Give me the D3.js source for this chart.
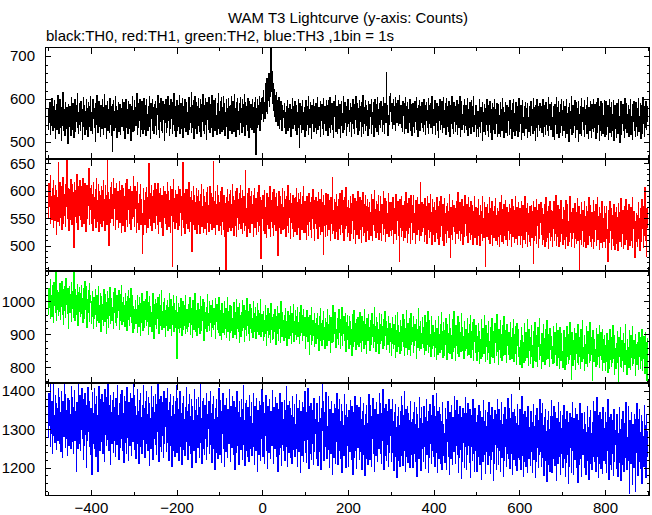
<!DOCTYPE html>
<html><head><meta charset="utf-8">
<script src="https://cdn.jsdelivr.net/npm/d3@7"></script>
<style>body{margin:0;background:#fff}svg{display:block}</style>
</head><body>
<svg id="c" width="652" height="515"></svg>
<script>
const titleText = "WAM T3 Lightcurve (y-axis: Counts)";
const subtitleText = "black:TH0, red:TH1, green:TH2, blue:TH3 ,1bin = 1s";
const binStart = -500; // time of first 1 s bin
const xMajorTicks = [-400,-200,0,200,400,600,800];
const xMinorTicks = [-500,-300,-100,100,300,500,700,900];
const yTicksTH0 = [500,600,700];
const yTicksTH1 = [500,550,600,650];
const yTicksTH2 = [800,900,1000];
const yTicksTH3 = [1200,1300,1400];

const th0 = [
561,530,578,545,592,550,517,569,538,601,555,526,583,560,534,596,547,508,574,552,587,529,564,609,542,
520,573,549,598,535,562,504,581,567,539,615,527,554,577,516,568,593,544,531,580,557,498,588,549,572,
536,584,562,515,603,551,529,572,591,540,511,578,555,599,524,548,585,566,533,612,552,519,570,589,542,
564,526,595,547,575,507,567,603,537,558,586,518,571,546,600,530,579,552,512,592,563,537,583,550,606,
528,569,546,587,520,598,554,579,533,572,501,590,561,540,609,548,523,578,556,594,537,567,514,585,551,
576,531,599,555,517,581,545,611,535,563,586,509,570,549,595,527,577,554,522,602,566,540,584,516,562,
478,588,547,597,526,571,550,605,534,560,582,510,573,552,593,524,567,545,588,518,579,556,536,600,549,
569,527,592,552,508,580,561,598,535,555,577,519,595,546,570,531,587,558,505,584,564,541,607,525,573,
546,596,526,568,580,538,560,613,518,554,589,534,572,550,599,513,579,556,529,594,565,521,583,549,602,
530,569,586,515,557,598,544,564,526,584,551,606,536,573,509,591,555,567,527,600,546,581,520,561,587,
538,595,557,518,579,565,609,529,554,590,510,571,548,601,528,564,585,522,594,552,575,503,588,545,567,
600,523,580,557,535,605,550,568,515,586,561,532,598,554,573,520,592,541,566,612,527,556,583,512,570,
549,596,528,571,585,537,560,608,521,557,589,531,567,601,549,511,583,562,535,599,555,576,524,592,546,
568,517,590,552,603,529,565,580,545,616,523,559,586,534,597,508,574,553,607,531,570,592,519,556,584,
539,601,561,524,579,552,598,514,569,588,547,610,528,564,586,521,557,602,540,577,507,593,553,567,530,
604,549,570,522,587,559,535,609,546,581,513,567,596,555,526,575,601,538,562,518,589,551,614,532,572,
556,521,595,567,541,603,525,580,554,607,530,565,590,516,570,549,600,536,578,559,509,602,546,583,527,
585,561,538,606,519,572,594,549,566,525,611,555,579,513,592,542,563,601,530,571,552,589,518,560,603,
545,579,523,598,562,536,587,553,610,516,568,593,540,559,582,526,602,549,573,511,595,564,535,588,554,
570,529,599,557,581,522,592,550,565,603,472,578,555,598,533,586,562,541,605,527,580,592,552,571,601,
566,604,548,621,579,593,556,637,571,612,588,649,566,628,597,659,583,641,607,672,731,618,664,596,650,
589,637,574,622,560,608,583,547,615,566,596,539,585,558,603,531,577,552,594,546,571,528,586,557,569,
573,533,589,551,569,521,584,542,563,597,526,560,579,535,588,547,568,514,576,553,602,531,565,583,540,
561,594,526,574,548,586,518,570,551,600,534,488,575,591,540,564,523,582,555,596,530,568,545,581,512,
570,549,597,528,562,583,541,606,517,557,577,535,592,551,565,509,585,543,572,599,524,561,547,582,533,
590,521,564,545,604,529,568,581,538,555,595,513,576,550,588,531,562,601,518,574,544,583,556,527,597,
546,586,562,515,575,596,535,557,603,522,567,542,591,530,581,551,510,594,560,571,536,608,525,564,584,
519,575,550,597,532,560,588,511,578,546,594,539,566,523,605,554,580,529,592,545,569,516,584,557,537,
599,543,573,524,562,591,548,580,513,570,544,598,531,559,587,520,575,553,607,534,564,589,541,517,578,
556,596,526,572,547,584,512,592,561,537,609,521,565,581,543,596,528,559,586,539,574,515,594,551,565,
531,588,560,579,520,600,548,569,541,592,514,576,554,598,534,563,587,525,603,550,575,518,561,590,542,
569,533,595,553,584,524,562,604,540,577,519,591,556,546,599,662,568,585,516,563,542,607,551,590,613,
571,548,589,532,576,560,598,541,583,566,604,527,574,590,545,561,596,538,580,553,609,544,569,586,535,
543,586,525,594,561,575,520,589,551,603,532,565,582,540,593,523,558,577,546,598,528,571,553,587,516,
567,591,536,557,583,522,595,548,573,530,604,552,579,512,585,562,541,596,526,564,583,545,592,533,559,
581,525,598,555,542,586,517,567,593,550,574,535,602,521,561,585,543,591,534,571,553,606,519,576,560,
538,580,555,596,518,569,545,589,527,562,584,511,576,551,599,530,558,583,540,594,522,565,546,603,533,
573,548,589,517,560,601,536,556,582,525,594,549,570,512,585,543,562,605,531,555,581,520,592,547,568,
524,584,557,541,597,518,569,552,588,535,563,607,514,577,548,595,530,565,542,586,555,523,600,538,561,
586,530,565,546,601,516,576,555,534,593,543,571,520,597,558,536,583,549,605,525,563,541,585,556,512,
586,547,531,572,512,558,598,537,565,522,581,549,555,503,593,534,570,525,587,543,561,517,578,540,600,
528,553,585,514,568,541,594,523,559,547,577,506,590,550,529,580,536,599,519,557,575,544,591,513,566,
543,588,521,562,538,593,514,575,550,526,601,534,558,581,510,570,547,592,522,560,540,585,516,572,551,
581,518,556,597,531,554,573,509,589,544,524,600,550,566,515,578,537,592,527,555,584,513,568,546,602,
525,562,543,585,507,575,550,596,522,557,538,583,515,569,592,531,548,578,511,590,543,558,524,582,536,
569,516,594,539,553,577,520,561,602,528,547,580,505,586,552,534,598,514,573,542,582,526,559,591,533,
550,584,522,571,543,599,512,555,585,536,565,517,593,541,576,527,551,603,515,579,538,588,530,564,547,
592,529,558,514,582,547,576,506,588,541,561,604,519,553,581,534,595,510,570,545,587,522,556,600,538,
515,574,548,595,527,559,582,511,551,536,598,521,566,544,580,502,589,555,531,571,546,605,517,558,540,
585,522,556,539,597,510,575,547,592,529,553,578,501,594,543,564,519,583,538,601,516,558,549,580,530,
559,596,513,577,542,553,585,521,603,536,564,508,581,550,526,594,539,572,511,588,556,531,599,524,575,
535,587,551,509,593,544,569,522,601,540,560,503,584,549,527,595,516,573,543,590,520,563,541,597,512,
578,548,594,518,560,536,586,507,569,543,599,522,556,581,514,592,538,565,526,597,505,574,550,585,532,
557,511,589,540,574,519,598,546,559,500,583,535,595,517,561,544,587,526,578,551,510,602,531,558,542,
591,523,564,544,585,512,576,550,533,600,518,559,539,588,507,572,547,595,528,556,581,514,593,537,562,
516,579,548,601,524,560,541,591,509,575,553,586,521,604,543,568,512,582,534,557,595,529,571,547,584
];

const th1 = [
585,552,613,571,598,540,627,566,590,548,604,575,533,619,560,592,546,609,578,521,601,569,588,545,652,
563,596,537,615,574,552,608,529,587,566,624,541,593,580,556,611,535,599,572,658,549,583,605,561,528,
602,575,548,620,559,590,539,611,568,597,496,584,616,553,576,601,542,629,565,589,530,607,580,556,618,
547,593,571,608,535,582,622,559,600,541,577,613,566,526,595,562,609,550,586,574,640,538,591,568,604,
566,609,541,594,577,528,616,560,587,549,603,572,534,623,557,582,545,612,568,526,599,563,591,540,608,
579,535,600,564,618,546,585,571,528,609,557,592,539,576,657,553,597,500,584,567,606,543,580,616,550,
594,558,622,537,581,568,605,530,591,559,614,547,575,598,534,586,563,617,542,572,600,525,610,556,583,
537,604,570,589,526,613,560,582,548,620,535,577,595,566,603,541,572,608,530,587,564,598,549,579,626,
554,590,535,608,568,582,524,599,561,615,543,577,530,593,566,550,612,538,584,559,486,521,575,604,547,
582,539,597,564,525,606,558,588,533,571,649,550,579,595,536,563,609,527,590,568,553,601,542,580,614,
531,574,602,556,587,539,613,565,522,596,577,545,605,560,583,534,591,571,518,608,552,586,567,598,541,
593,562,529,615,573,550,598,535,582,568,607,524,589,556,603,462,578,565,621,544,586,532,600,559,575,
542,594,567,529,608,551,581,537,603,560,573,518,589,564,548,651,534,576,595,523,585,557,602,540,569,
602,532,575,558,616,526,587,563,544,599,571,490,582,555,608,539,568,592,530,578,561,605,522,589,551,
565,600,538,580,523,594,552,585,611,535,571,559,524,603,548,589,532,578,566,597,520,557,606,543,574,
526,584,562,607,540,571,595,529,558,588,551,653,534,569,581,521,598,554,575,539,610,547,563,591,528,
579,537,598,554,569,520,606,545,585,530,592,561,516,577,555,454,588,539,603,566,526,581,551,594,534,
563,601,528,575,545,611,533,567,590,519,582,554,598,537,572,516,605,552,584,529,563,596,541,577,609,
532,586,557,523,600,564,543,590,528,579,555,637,536,568,517,595,550,581,531,604,559,525,589,546,573,
598,540,575,559,516,592,552,604,534,570,586,521,563,597,545,579,526,609,555,537,588,567,477,583,549,
560,591,528,576,547,600,523,569,553,584,515,595,539,562,588,531,574,552,607,517,582,545,566,597,534,
580,519,603,551,538,587,564,527,595,554,572,483,584,548,599,533,565,590,522,576,557,542,605,529,569,
544,598,532,563,584,516,590,555,573,537,609,525,568,552,583,514,596,543,577,560,531,592,549,517,586,
570,526,588,557,541,604,521,579,550,595,533,566,584,512,597,546,575,529,589,562,538,607,524,581,555,
524,581,553,512,590,539,572,557,519,596,545,578,529,563,587,515,571,550,602,532,559,583,510,574,541,
588,531,566,544,580,513,597,552,535,584,521,570,557,603,526,562,579,484,591,548,536,573,517,595,554,
539,576,518,594,555,530,582,546,569,509,587,541,575,522,624,551,528,565,584,514,578,543,561,593,526,
572,512,585,548,564,532,595,520,577,553,539,601,524,566,582,510,588,545,559,531,606,536,569,550,516,
551,582,525,568,510,590,539,563,522,577,546,594,513,558,573,530,586,505,567,544,580,521,555,599,532,
514,571,547,588,529,564,506,583,551,535,597,519,560,576,525,591,542,508,572,554,584,527,549,569,512,
578,533,561,518,593,546,572,509,585,538,557,527,600,543,566,515,581,550,524,575,536,592,511,563,545,
525,589,554,509,576,541,564,520,598,532,553,586,507,570,547,581,523,559,535,595,516,568,542,579,528,
557,518,579,542,530,588,505,567,549,523,575,537,594,512,560,546,581,519,553,570,471,585,534,562,517,
589,527,556,574,510,565,543,580,515,551,597,528,563,506,577,539,522,586,548,533,569,504,592,543,559,
512,573,535,591,524,558,547,504,582,540,566,520,588,552,529,575,509,561,537,615,518,556,579,526,548,
575,533,565,508,586,541,520,572,554,505,589,530,563,543,577,515,551,593,526,560,538,502,584,547,569,
520,579,541,508,564,547,525,588,514,555,572,533,503,581,544,562,517,590,536,553,509,575,530,567,501,
586,523,558,541,572,506,549,577,528,563,515,594,537,552,478,570,546,520,583,512,559,535,574,526,553,
505,567,536,580,522,554,597,513,544,561,527,578,509,566,549,523,585,539,502,571,533,559,516,592,541,
564,518,575,532,553,506,587,544,524,569,511,556,581,538,520,573,502,562,547,528,589,515,551,570,534,
546,503,568,530,584,519,555,537,501,574,543,522,562,509,590,532,550,515,578,527,560,463,569,538,517,
575,528,511,559,541,587,505,551,567,520,544,580,500,563,533,515,571,548,523,586,510,556,535,502,568,
517,562,544,498,579,532,553,521,591,508,547,566,529,504,575,540,518,583,512,557,539,569,501,550,527,
560,511,576,538,522,568,499,584,535,553,517,572,542,506,564,528,589,513,547,570,503,555,532,578,519,
532,567,503,549,580,518,555,496,573,537,511,563,544,590,505,551,526,568,499,577,521,558,535,508,571,
500,556,533,574,515,547,562,468,581,526,510,569,541,518,585,504,552,536,565,496,575,530,513,559,543,
579,521,544,503,568,533,557,512,576,498,550,529,587,507,562,538,515,571,495,554,525,581,509,546,564,
517,562,498,553,531,580,510,546,569,523,592,501,557,534,516,574,543,499,566,527,551,508,583,522,538,
547,502,569,528,511,564,539,495,582,517,553,531,576,500,544,520,567,508,590,525,542,498,560,534,513,
568,524,551,496,577,514,542,560,505,530,586,509,548,522,571,457,557,535,512,579,503,546,528,565,499,
539,581,508,554,525,497,572,533,516,563,502,545,588,518,551,507,574,529,499,561,540,514,583,495,550,
507,563,529,575,500,546,518,587,511,553,535,494,569,524,558,506,542,580,497,564,521,549,508,572,537,
558,496,543,571,514,530,472,564,522,549,506,581,527,540,494,568,513,555,532,501,575,519,546,493,561,
525,570,504,552,537,491,577,516,560,507,544,528,586,499,555,522,565,495,549,513,572,503,538,584,517,
551,512,564,493,534,575,518,556,501,540,569,509,526,587,496,553,532,563,490,478,521,545,507,559,529,
498,555,537,578,514,549,492,567,525,544,507,584,531,561,496,572,519,540,606,509,554,480,568,534,563
];

const th2 = [
1004,960,1039,982,1023,947,1066,995,1018,954,1050,977,1011,935,1058,989,1030,968,1092,1000,941,1033,975,1014,956,
1028,971,1003,1054,944,1019,986,1062,959,1007,1035,930,997,1044,973,1016,951,1070,991,1025,963,1040,918,1009,982,
1046,966,1021,995,1058,939,1013,980,1031,952,1093,988,1005,943,1036,974,1017,961,1052,993,927,1028,969,1042,1000,
955,1023,982,1049,964,1010,936,1038,992,1015,949,1061,977,1026,958,1044,921,1006,985,1033,968,1056,940,1019,996,
1001,932,986,954,1029,968,917,1012,947,994,1035,959,976,923,1018,941,1007,962,1044,935,989,951,1023,910,978,
1015,946,992,970,928,1037,956,1004,939,1020,965,902,998,949,1031,973,920,1010,958,1042,934,987,964,1009,942,
983,953,1026,919,995,968,1038,937,1006,961,926,1017,950,991,972,1033,914,1002,943,1021,956,1049,930,997,967,
938,1011,960,988,924,1024,952,999,975,911,1016,944,1034,963,982,927,1008,955,1040,936,993,969,1019,906,986,
977,917,961,938,1003,932,975,953,1019,906,988,944,923,1011,949,966,897,994,936,1024,959,913,984,928,1000,
920,979,945,1007,927,963,1030,938,972,901,996,951,1016,924,985,942,968,909,1002,934,1023,955,889,991,947,
1005,931,966,918,993,949,1012,937,978,904,1020,956,926,987,943,1034,915,971,950,997,922,1010,939,974,895,
959,989,928,1002,942,913,981,954,1025,919,968,936,1006,897,984,947,931,1017,962,910,995,938,973,921,1014,
943,828,966,917,994,930,907,982,948,921,1009,935,896,973,940,1000,914,961,927,987,902,1018,944,919,977,
908,954,991,923,966,936,1012,900,945,978,929,961,890,1003,937,916,985,951,1024,909,972,933,897,989,956,
995,922,947,975,904,1016,934,962,913,986,941,1006,925,952,882,997,939,968,918,981,947,910,1020,931,964,
927,1001,913,959,936,987,895,973,921,1004,942,914,979,953,931,1010,888,962,938,992,916,949,976,905,1013,
941,897,972,921,950,885,993,928,907,962,934,1001,900,943,917,980,890,956,925,1012,909,938,971,882,987,
930,905,959,984,913,947,892,975,920,998,935,901,966,927,1006,888,952,919,981,908,940,994,874,956,923,
895,967,932,1003,911,944,922,987,878,955,916,974,940,897,1009,926,958,903,969,934,883,990,917,951,906,
978,919,948,892,999,930,908,963,937,982,889,954,921,995,910,942,973,900,929,965,915,1007,893,938,960,
910,949,883,971,920,894,942,987,903,928,867,956,912,980,891,934,965,899,923,874,995,916,938,886,952,
925,889,961,908,977,896,930,870,953,915,984,902,937,882,964,919,947,876,1001,906,929,893,968,910,941,
883,956,920,892,979,911,938,865,949,903,970,924,888,958,915,986,897,931,873,962,905,943,916,992,879,
940,901,973,917,886,954,923,982,894,936,909,967,871,945,898,989,921,906,957,880,933,976,897,926,951,
904,858,936,893,972,909,877,950,888,921,840,957,900,929,869,983,912,883,943,896,918,863,965,905,934,
873,947,910,889,962,898,926,851,954,880,915,979,894,932,865,941,908,886,970,901,922,857,948,890,937,
916,867,975,902,930,882,958,891,919,846,951,909,874,937,896,987,879,925,904,966,883,940,861,914,893,
949,888,923,870,977,905,934,858,944,897,912,981,866,929,903,953,880,920,895,964,848,936,907,886,958,
888,925,856,953,897,870,938,882,916,835,959,892,927,864,973,901,878,932,854,945,886,917,868,950,907,
863,934,891,968,876,912,849,955,893,924,883,940,858,977,899,869,929,905,842,948,914,880,960,888,922,
896,851,943,885,919,870,964,894,929,860,908,877,983,891,924,847,952,902,873,936,883,915,841,962,898,
930,872,905,959,881,924,856,945,889,913,866,971,898,927,854,940,886,919,868,955,893,909,845,933,877,
883,836,919,871,950,889,857,931,868,904,830,956,880,913,847,967,895,863,926,877,906,842,941,886,910,
850,925,878,959,864,900,835,944,886,917,859,974,874,909,840,933,891,855,948,882,912,837,962,869,902,
877,921,845,954,892,867,929,881,908,827,945,874,916,860,978,890,850,924,883,939,856,903,871,951,894,
922,859,893,840,958,879,914,852,935,887,868,969,846,911,876,941,864,899,832,953,885,920,858,927,873,
867,834,906,860,942,876,825,918,871,894,839,955,862,901,844,929,879,854,966,867,910,831,937,874,896,
837,913,868,949,856,890,823,931,872,904,845,960,878,841,919,863,897,828,944,885,912,849,971,859,891,
879,820,926,865,899,842,954,882,911,833,937,870,905,847,965,888,852,921,867,895,827,940,876,908,850,
916,857,885,835,948,873,902,839,929,880,863,957,831,910,868,936,854,892,822,945,877,914,845,927,869,
857,820,895,848,932,865,812,910,861,886,827,944,852,894,832,919,871,843,956,857,900,819,926,864,885,
825,902,858,938,844,878,811,921,862,894,833,949,867,829,909,851,887,816,933,874,901,837,960,847,880,
869,808,915,855,889,830,942,872,901,821,927,860,895,835,954,878,840,911,857,883,815,930,866,898,838,
905,845,874,823,936,862,890,827,919,868,851,945,819,899,856,924,842,880,810,934,865,903,833,916,859,
845,808,883,836,920,853,800,898,849,874,815,932,840,882,820,907,859,831,944,845,888,807,914,852,873,
813,890,846,926,832,866,799,909,850,882,821,937,855,817,897,839,875,804,921,862,889,825,948,835,868,
857,796,903,843,877,818,930,860,889,809,915,848,883,823,942,866,828,899,845,871,803,918,854,886,826,
893,833,862,811,924,850,878,815,907,856,839,933,807,887,844,912,830,868,798,922,853,891,821,904,847,
838,801,876,829,913,846,793,891,842,867,808,925,833,875,813,900,852,824,937,838,881,762,907,845,866,
806,883,839,919,825,859,792,902,843,875,814,930,848,810,890,832,868,797,914,855,882,818,941,828,861,
850,789,896,836,870,811,923,853,882,802,908,841,876,816,935,859,821,892,838,864,760,911,847,879,819,
886,826,855,804,917,843,871,808,900,849,832,926,800,880,837,905,823,861,791,915,846,884,814,897,840,
828,791,866,819,903,836,783,881,832,857,798,915,823,865,803,890,842,814,927,828,871,779,897,835,856,
796,873,829,909,815,849,757,892,833,865,804,920,838,800,880,822,858,787,904,845,872,808,931,818,851,
840,779,886,826,860,801,913,843,872,792,898,831,866,806,925,849,811,882,828,854,776,901,837,869,809,
876,816,845,794,907,833,861,798,890,839,822,916,790,870,827,895,813,851,781,905,836,874,760,887,830
];

const th3 = [
1342,1279,1395,1310,1361,1256,1418,1327,1290,1374,1238,1352,1305,1421,1284,1336,1266,1389,1321,1247,1368,1298,1355,1271,1408,
1301,1384,1262,1345,1317,1242,1399,1288,1359,1226,1372,1309,1281,1426,1333,1253,1390,1315,1275,1350,1232,1381,1296,1364,1258,
1376,1291,1340,1249,1412,1307,1268,1383,1320,1236,1357,1294,1401,1272,1346,1316,1189,1369,1283,1337,1251,1419,1303,1263,1388,
1323,1245,1367,1299,1406,1277,1331,1220,1379,1312,1258,1393,1286,1348,1201,1362,1318,1270,1410,1295,1343,1254,1372,1308,1233,
1354,1278,1182,1329,1396,1264,1341,1293,1407,1250,1366,1317,1228,1385,1302,1337,1189,1360,1281,1412,1309,1244,1378,1290,1348,
1269,1392,1315,1236,1371,1296,1352,1215,1403,1287,1338,1257,1384,1311,1274,1422,1298,1245,1363,1326,1209,1389,1283,1344,1262,
1375,1301,1240,1397,1318,1271,1356,1229,1381,1307,1349,1261,1414,1289,1335,1222,1368,1299,1253,1391,1314,1276,1402,1246,1359,
1292,1341,1213,1386,1305,1266,1374,1324,1238,1409,1280,1353,1295,1219,1370,1312,1258,1395,1286,1345,1231,1380,1303,1269,1417,
1321,1248,1388,1286,1359,1224,1337,1300,1405,1262,1347,1283,1212,1376,1315,1254,1394,1292,1331,1238,1362,1309,1273,1416,1281,
1355,1226,1373,1304,1264,1398,1291,1340,1245,1383,1318,1206,1367,1287,1329,1250,1411,1298,1268,1357,1221,1385,1311,1276,1343,
1260,1391,1307,1233,1365,1294,1418,1272,1336,1217,1378,1301,1256,1387,1323,1241,1369,1284,1352,1227,1400,1296,1263,1346,1308,
1381,1243,1328,1289,1407,1266,1349,1218,1371,1306,1257,1392,1279,1334,1203,1362,1317,1246,1386,1297,1339,1230,1374,1288,1415,
1313,1239,1380,1275,1351,1219,1330,1293,1398,1255,1341,1278,1207,1368,1309,1248,1387,1285,1325,1232,1356,1302,1267,1410,1274,
1347,1220,1366,1298,1258,1392,1284,1333,1238,1377,1312,1199,1361,1281,1322,1244,1404,1291,1262,1350,1214,1379,1305,1270,1336,
1253,1384,1300,1227,1358,1287,1420,1265,1329,1211,1372,1294,1249,1381,1316,1235,1363,1277,1345,1221,1394,1289,1256,1339,1301,
1374,1237,1321,1282,1400,1260,1342,1213,1364,1299,1251,1385,1272,1327,1196,1355,1310,1240,1379,1290,1332,1224,1367,1281,1408,
1308,1233,1375,1270,1346,1214,1325,1288,1393,1250,1336,1273,1202,1363,1304,1243,1382,1280,1320,1227,1351,1297,1262,1405,1269,
1342,1215,1361,1293,1253,1387,1279,1328,1233,1372,1307,1194,1356,1276,1317,1239,1399,1286,1257,1345,1209,1374,1300,1265,1331,
1248,1379,1295,1222,1353,1282,1415,1260,1324,1206,1367,1289,1244,1376,1311,1230,1358,1272,1340,1216,1389,1284,1251,1334,1296,
1369,1232,1316,1277,1395,1255,1337,1208,1359,1294,1246,1380,1267,1322,1191,1350,1305,1235,1374,1285,1327,1219,1362,1276,1403,
1304,1229,1371,1266,1342,1210,1321,1284,1389,1246,1332,1269,1198,1359,1300,1239,1378,1276,1316,1223,1347,1293,1258,1401,1265,
1338,1211,1357,1289,1249,1383,1275,1324,1229,1368,1303,1190,1352,1272,1313,1235,1395,1282,1253,1341,1205,1370,1296,1261,1327,
1244,1375,1291,1218,1349,1278,1411,1256,1320,1202,1363,1285,1240,1372,1307,1226,1354,1268,1336,1212,1385,1280,1247,1330,1292,
1365,1228,1312,1273,1391,1251,1333,1204,1355,1290,1242,1376,1263,1318,1187,1346,1301,1231,1370,1281,1323,1215,1358,1272,1399,
1240,1371,1287,1214,1345,1274,1407,1252,1316,1198,1359,1281,1236,1368,1303,1222,1350,1264,1332,1208,1381,1276,1243,1326,1288,
1300,1225,1367,1262,1338,1206,1317,1280,1385,1242,1328,1265,1194,1355,1296,1420,1374,1272,1312,1219,1343,1289,1254,1397,1261,
1361,1224,1308,1269,1387,1247,1329,1200,1351,1286,1238,1372,1259,1314,1183,1342,1297,1227,1366,1277,1319,1211,1354,1268,1395,
1334,1207,1353,1285,1245,1379,1271,1320,1225,1364,1299,1186,1348,1268,1309,1231,1391,1278,1249,1337,1201,1366,1292,1257,1323,
1330,1203,1349,1281,1241,1375,1267,1316,1221,1360,1295,1182,1344,1264,1305,1227,1387,1274,1245,1333,1197,1362,1288,1253,1319,
1357,1220,1304,1265,1383,1243,1325,1196,1347,1282,1234,1368,1255,1310,1179,1338,1293,1223,1362,1273,1315,1207,1350,1264,1391,
1296,1221,1363,1258,1334,1202,1313,1276,1381,1238,1324,1261,1190,1351,1292,1231,1370,1268,1308,1215,1339,1285,1250,1393,1257,
1236,1367,1283,1210,1341,1270,1403,1248,1312,1194,1355,1277,1232,1364,1299,1218,1346,1260,1328,1204,1377,1272,1239,1322,1284,
1353,1216,1300,1261,1379,1239,1321,1192,1343,1278,1230,1364,1251,1306,1175,1334,1289,1219,1358,1269,1311,1203,1346,1260,1387,
1232,1363,1279,1206,1337,1266,1399,1244,1308,1190,1351,1273,1228,1360,1295,1214,1342,1256,1324,1200,1373,1268,1235,1318,1280,
1326,1199,1345,1277,1237,1371,1263,1312,1217,1356,1291,1178,1340,1260,1301,1223,1383,1270,1241,1329,1193,1358,1284,1249,1315,
1292,1217,1359,1254,1330,1198,1309,1272,1377,1234,1320,1257,1186,1347,1288,1227,1366,1264,1304,1211,1335,1281,1246,1389,1253,
1228,1359,1275,1202,1333,1262,1395,1240,1304,1186,1347,1269,1224,1356,1291,1210,1338,1252,1320,1196,1369,1264,1231,1314,1276,
1288,1213,1355,1250,1326,1194,1305,1268,1373,1230,1316,1253,1182,1343,1284,1223,1362,1260,1300,1207,1331,1277,1242,1385,1249,
1349,1212,1296,1257,1375,1235,1317,1188,1339,1274,1226,1360,1247,1302,1171,1330,1285,1215,1354,1265,1307,1199,1342,1256,1383,
1322,1195,1341,1273,1233,1367,1259,1308,1213,1352,1287,1174,1336,1256,1297,1219,1379,1266,1237,1325,1189,1354,1280,1245,1311,
1318,1191,1337,1269,1229,1363,1255,1304,1209,1348,1283,1170,1332,1252,1293,1215,1375,1262,1233,1321,1185,1350,1276,1241,1307,
1345,1208,1292,1253,1371,1231,1313,1184,1335,1270,1222,1356,1243,1298,1167,1326,1281,1211,1350,1261,1303,1195,1338,1252,1379,
1284,1209,1351,1246,1322,1190,1301,1264,1369,1226,1312,1249,1178,1339,1280,1219,1358,1256,1296,1203,1327,1273,1238,1381,1245,
1224,1355,1271,1198,1329,1258,1391,1236,1300,1182,1343,1265,1220,1352,1287,1206,1334,1248,1316,1192,1365,1260,1227,1310,1272,
1220,1351,1267,1194,1325,1254,1387,1232,1296,1178,1339,1261,1216,1348,1283,1202,1330,1244,1312,1188,1361,1256,1223,1306,1268,
1280,1205,1347,1242,1318,1186,1297,1260,1365,1222,1308,1245,1174,1335,1276,1215,1354,1252,1292,1199,1323,1269,1234,1377,1241,
1341,1204,1288,1249,1367,1227,1309,1180,1331,1266,1218,1352,1239,1294,1163,1322,1277,1207,1346,1257,1299,1191,1334,1248,1375,
1314,1187,1333,1265,1225,1359,1251,1300,1205,1344,1279,1166,1328,1248,1289,1211,1371,1258,1229,1317,1181,1346,1272,1237,1303,
1337,1200,1284,1245,1363,1223,1305,1176,1327,1262,1214,1348,1235,1290,1159,1318,1273,1203,1342,1253,1295,1187,1330,1244,1371,
1310,1183,1329,1261,1221,1355,1247,1296,1201,1340,1275,1162,1324,1244,1285,1207,1367,1254,1225,1313,1177,1342,1268,1233,1299,
1276,1201,1343,1238,1314,1182,1293,1256,1361,1218,1304,1241,1170,1331,1272,1211,1350,1248,1288,1195,1319,1265,1230,1373,1237,
1216,1347,1263,1190,1321,1250,1383,1228,1292,1174,1335,1257,1212,1344,1279,1198,1326,1240,1308,1184,1357,1252,1219,1302,1264,
1212,1343,1259,1186,1317,1246,1379,1224,1288,1170,1331,1253,1208,1340,1275,1194,1322,1236,1304,1180,1353,1248,1215,1298,1260,
1272,1197,1339,1234,1310,1178,1289,1252,1357,1214,1300,1237,1166,1327,1268,1207,1346,1244,1284,1191,1315,1261,1226,1369,1233,
1333,1196,1280,1241,1359,1219,1301,1132,1323,1258,1210,1344,1231,1286,1155,1314,1269,1199,1338,1249,1291,1138,1326,1240,1367,
1306,1179,1325,1257,1217,1351,1243,1292,1197,1336,1271,1158,1320,1240,1281,1203,1363,1250,1221,1309,1173,1338,1264,1229,1295
];

const seriesList = [
  {name: "TH0", values: th0, color: "#000000", ticks: yTicksTH0},
  {name: "TH1", values: th1, color: "#ff0000", ticks: yTicksTH1},
  {name: "TH2", values: th2, color: "#00ff00", ticks: yTicksTH2},
  {name: "TH3", values: th3, color: "#0000ff", ticks: yTicksTH3}
];

// ---- layout (kept separate from the data) ----
const FONT = "'Liberation Sans', Arial, Helvetica, sans-serif";
const left = 45, right = 650;
const panelBox = [[47.5,158.5],[159.5,270.5],[271.5,382.5],[383.5,495.5]];
const yDomains = [[462,720],[455,657],[754,1091],[1127,1420]];
const yMinorStep = [20,10,20,20];

const svg = d3.select("#c");
svg.append("rect").attr("width",652).attr("height",515).attr("fill","#fff");

svg.append("text").attr("x",348).attr("y",23).attr("text-anchor","middle")
  .attr("font-family",FONT).attr("font-size",15).attr("fill","#000").text(titleText);
svg.append("text").attr("x",46).attr("y",41)
  .attr("font-family",FONT).attr("font-size",15).attr("fill","#000").text(subtitleText);

const x = d3.scaleLinear().domain([-507,905]).range([left,right]);

function styleAxis(g){
  g.select(".domain").remove();
  g.selectAll("line").attr("stroke","#000").attr("shape-rendering","crispEdges");
  g.selectAll("text").attr("font-family",FONT).attr("font-size",15).attr("fill","#000");
  g.attr("font-family",null).attr("font-size",null);
}

seriesList.forEach((s,i)=>{
  const [top,bottom] = panelBox[i];
  const y = d3.scaleLinear().domain(yDomains[i]).range([bottom,top]);
  const g = svg.append("g");
  const cid = "clip"+i;
  svg.append("clipPath").attr("id",cid).append("rect")
    .attr("x",left).attr("y",top).attr("width",right-left).attr("height",bottom-top);

  const line = d3.line()
    .x((d,k)=>x(binStart+k))
    .y(d=>y(d))
    .curve(d3.curveStepAfter);
  g.append("path").datum(s.values)
    .attr("clip-path",`url(#${cid})`)
    .attr("fill","none").attr("stroke",s.color).attr("stroke-width",1)
    .attr("shape-rendering","crispEdges")
    .attr("d",line);

  const [d0,d1] = yDomains[i];
  const minorY = d3.range(Math.ceil(d0/yMinorStep[i])*yMinorStep[i], d1, yMinorStep[i]).filter(v=>!s.ticks.includes(v));
  g.append("g").attr("transform",`translate(${left},0)`).call(d3.axisLeft(y).tickValues(minorY).tickSize(-3).tickFormat("")).call(styleAxis);
  g.append("g").attr("transform",`translate(${right},0)`).call(d3.axisRight(y).tickValues(minorY).tickSize(-3).tickFormat("")).call(styleAxis);
  g.append("g").attr("transform",`translate(0,${bottom})`).call(d3.axisBottom(x).tickValues(xMinorTicks).tickSize(-3.5).tickFormat("")).call(styleAxis);
  g.append("g").attr("transform",`translate(0,${top})`).call(d3.axisTop(x).tickValues(xMinorTicks).tickSize(-3.5).tickFormat("")).call(styleAxis);

  g.append("g").attr("transform",`translate(${left},0)`)
    .call(d3.axisLeft(y).tickValues(s.ticks).tickSize(-6).tickPadding(10).tickFormat(d3.format("d"))).call(styleAxis);
  g.append("g").attr("transform",`translate(${right},0)`)
    .call(d3.axisRight(y).tickValues(s.ticks).tickSize(-6).tickFormat("")).call(styleAxis);
  g.append("g").attr("transform",`translate(0,${bottom})`)
    .call(d3.axisBottom(x).tickValues(xMajorTicks).tickSize(-6).tickPadding(7)
      .tickFormat(i===seriesList.length-1 ? d3.format("d") : "")).call(styleAxis);
  g.append("g").attr("transform",`translate(0,${top})`)
    .call(d3.axisTop(x).tickValues(xMajorTicks).tickSize(-6).tickFormat("")).call(styleAxis);

  g.append("rect").attr("x",left+0.5).attr("y",top).attr("width",right-left-1).attr("height",bottom-top)
    .attr("fill","none").attr("stroke","#000").attr("stroke-width",1).attr("shape-rendering","crispEdges");
});
</script>
</body></html>
